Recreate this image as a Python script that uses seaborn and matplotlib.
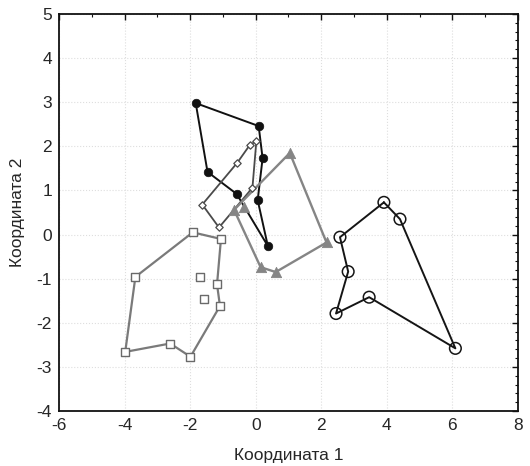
import matplotlib
matplotlib.use("Agg")
import matplotlib.pyplot as plt
import seaborn as sns
import pandas as pd
from matplotlib.ticker import MultipleLocator

# ---- data ----
# group A: filled black circles (polygon order)
a_x = [-1.83, 0.09, 0.21, 0.06, 0.37, -0.58, -1.47]
a_y = [2.98, 2.46, 1.73, 0.78, -0.26, 0.92, 1.42]
a_hull = [0, 1, 2, 3, 4, 5, 6]

# group B: small open diamonds
b_x = [0.02, -0.10, -1.12, -1.63, -0.56, -0.18]
b_y = [2.12, 1.06, 0.16, 0.68, 1.63, 2.03]
b_hull = [0, 1, 2, 3, 4, 5]

# group C: grey filled triangles
c_x = [1.04, 2.16, 0.61, 0.15, -0.66, -0.37]
c_y = [1.85, -0.18, -0.85, -0.74, 0.56, 0.62]
c_hull = [0, 1, 2, 3, 4]

# group D: open squares
d_x = [-1.92, -1.06, -1.18, -1.09, -1.99, -2.61, -3.98, -3.67, -1.71, -1.58]
d_y = [0.05, -0.10, -1.13, -1.62, -2.77, -2.47, -2.66, -0.96, -0.96, -1.46]
d_hull = [0, 1, 2, 3, 4, 5, 6, 7]

# group E: open circles
e_x = [3.91, 4.40, 6.09, 3.46, 2.45, 2.82, 2.57]
e_y = [0.73, 0.35, -2.58, -1.42, -1.79, -0.84, -0.06]
e_hull = [0, 1, 2, 3, 4, 5, 6]

x_ticks = [-6, -4, -2, 0, 2, 4, 6, 8]
y_ticks = [-4, -3, -2, -1, 0, 1, 2, 3, 4, 5]
x_label = "Координата 1"
y_label = "Координата 2"

sns.set_style("white")
plt.rcParams["font.family"] = ["Liberation Sans", "DejaVu Sans"]
plt.rcParams["axes.unicode_minus"] = False

fig = plt.figure(figsize=(5.3, 4.66), dpi=100)
ax = fig.add_axes([59 / 530, 1 - 411 / 466, (518 - 59) / 530, (411 - 14) / 466])

for gx in x_ticks:
    ax.axvline(gx, color="#dedede", lw=0.8, ls=":", zorder=0)
for gy in y_ticks:
    ax.axhline(gy, color="#dedede", lw=0.8, ls=":", zorder=0)


def hull_df(xs, ys, idx):
    order = list(idx) + [idx[0]]
    return pd.DataFrame({"x": [xs[i] for i in order], "y": [ys[i] for i in order],
                         "s": range(len(order))})


groups = [
    (a_x, a_y, a_hull, "#111111", 1.4, dict(marker="o", s=38, color="#111111", edgecolor="#111111")),
    (b_x, b_y, b_hull, "#4a4a4a", 1.3, dict(marker="D", s=14, facecolor="white", edgecolor="#4a4a4a", linewidth=0.9)),
    (c_x, c_y, c_hull, "#858585", 1.7, dict(marker="^", s=55, color="#858585", edgecolor="#858585")),
    (d_x, d_y, d_hull, "#7a7a7a", 1.6, dict(marker="s", s=30, facecolor="white", edgecolor="#6a6a6a", linewidth=1.0)),
    (e_x, e_y, e_hull, "#151515", 1.4, dict(marker="o", s=70, facecolor="none", edgecolor="#151515", linewidth=1.1)),
]

for xs, ys, hull, lc, lw, mk in groups:
    df = hull_df(xs, ys, hull)
    sns.lineplot(data=df, x="x", y="y", sort=False, estimator=None, color=lc,
                 lw=lw, ax=ax, zorder=2)
    pts = pd.DataFrame({"x": xs, "y": ys})
    sns.scatterplot(data=pts, x="x", y="y", ax=ax, zorder=3, legend=False, **mk)

ax.set_xlim(-6, 8)
ax.set_ylim(-4, 5)
ax.set_xticks(x_ticks)
ax.set_yticks(y_ticks)
ax.xaxis.set_minor_locator(MultipleLocator(1))
ax.yaxis.set_minor_locator(MultipleLocator(0.2))
ax.tick_params(which="both", direction="in", top=True, right=True, color="#111111")
ax.tick_params(which="major", length=4, width=1.0, labelsize=12.5, pad=5)
ax.tick_params(which="minor", length=2.5, width=0.8)
for sp in ax.spines.values():
    sp.set_color("#111111")
    sp.set_linewidth(1.3)
ax.set_xlabel(x_label, fontsize=12.5, labelpad=11)
ax.set_ylabel(y_label, fontsize=12.5, labelpad=8)

fig.savefig("out.png", dpi=100)
